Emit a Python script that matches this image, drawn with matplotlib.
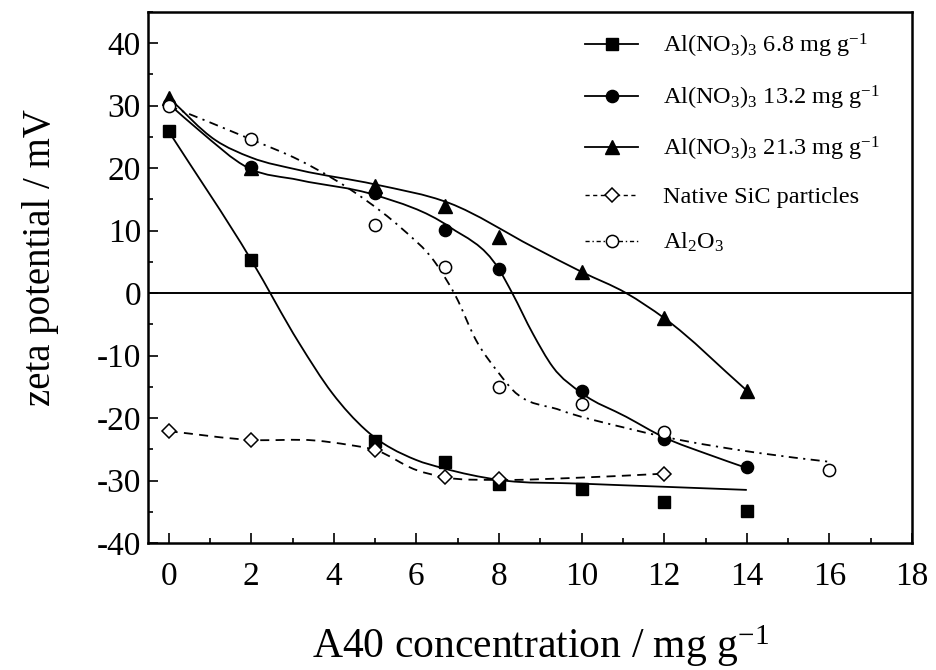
import matplotlib
matplotlib.use("Agg")
import matplotlib.pyplot as plt
import numpy as np
from matplotlib.path import Path
from matplotlib.patches import PathPatch
from matplotlib.lines import Line2D
from matplotlib.ticker import MultipleLocator

plt.rcParams['font.family'] = ['Liberation Serif', 'DejaVu Serif']
plt.rcParams['mathtext.fontset'] = 'custom'
plt.rcParams['mathtext.rm'] = 'Liberation Serif'
plt.rcParams['mathtext.it'] = 'Liberation Serif:italic'
plt.rcParams['axes.unicode_minus'] = False

# measured points
x_sq = [0, 2, 5, 6.7, 8, 10, 12, 14]
y_sq = [25.9, 5.3, -23.6, -27.0, -30.6, -31.4, -33.5, -34.9]

x_c13 = [0, 2, 5, 6.7, 8, 10, 12, 14]
y_c13 = [30.3, 20.2, 16.0, 10.1, 3.8, -15.7, -23.3, -27.9]

x_t21 = [0, 2, 5, 6.7, 8, 10, 12, 14]
y_t21 = [31.3, 20.0, 17.1, 13.9, 9.0, 3.4, -4.0, -15.6]

x_sic = [0, 2, 5, 6.7, 8, 12]
y_sic = [-22.1, -23.5, -25.1, -29.4, -29.8, -28.9]

x_al = [0, 2, 5, 6.7, 8, 10, 12, 16]
y_al = [30.0, 24.6, 10.9, 4.2, -15.1, -17.7, -22.2, -28.3]

# fitted curves
sq_fit_x = [0, 2, 3.16, 3.96, 4.77, 5.99, 6.63, 8, 10, 12, 14]
sq_fit_y = [25.9, 5.3, -8.0, -16.0, -21.9, -26.7, -28.0, -29.9, -30.5, -31.0, -31.5]

c13_fit_x = [0, 0.73, 1.94, 3.16, 5, 6.8, 8, 8.32, 8.82, 9.3, 10, 11.08, 12, 13.1, 14]
c13_fit_y = [30.3, 26.1, 20.0, 18.1, 15.7, 10.6, 3.8, 0, -6.5, -11.8, -16.0, -19.8, -23.1, -25.9, -28.0]

t21_fit_x = [0, 1.13, 2, 3.16, 5, 6.8, 8.82, 10, 11.08, 12, 14]
t21_fit_y = [31.3, 24.5, 21.7, 19.7, 17.4, 14.4, 7.4, 3.4, 0, -4.0, -15.6]

al_fit_x = [0, 2, 3.16, 4.77, 5.6, 6.47, 6.96, 7.44, 8.0, 8.33, 9.47, 11.08, 12, 14.3, 16]
al_fit_y = [30.0, 24.6, 21.3, 14.9, 10.6, 4.75, -0.6, -7.5, -12.85, -15.5, -18.7, -21.6, -23.0, -25.6, -27.0]

sic_fit_x = [0, 2, 3.56, 4.37, 5, 5.99, 6.7, 8, 9.74, 12]
sic_fit_y = [-22.1, -23.5, -23.6, -24.3, -25.1, -28.3, -29.5, -29.9, -29.6, -28.9]

labels = [r'Al(NO$_3$)$_3$ 6.8 mg g$^{-1}$',
          r'Al(NO$_3$)$_3$ 13.2 mg g$^{-1}$',
          r'Al(NO$_3$)$_3$ 21.3 mg g$^{-1}$',
          'Native SiC particles',
          r'Al$_2$O$_3$']


def smooth_path(xs, ys):
    # cubic hermite through the read points, as bezier segments
    x = np.asarray(xs, float)
    y = np.asarray(ys, float)
    h = np.diff(x)
    d = np.diff(y) / h
    m = np.empty_like(y)
    m[0] = d[0]
    m[-1] = d[-1]
    m[1:-1] = (h[1:] * d[:-1] + h[:-1] * d[1:]) / (h[:-1] + h[1:])
    verts = [(x[0], y[0])]
    codes = [Path.MOVETO]
    for i in range(len(x) - 1):
        verts += [(x[i] + h[i] / 3, y[i] + m[i] * h[i] / 3),
                  (x[i + 1] - h[i] / 3, y[i + 1] - m[i + 1] * h[i] / 3),
                  (x[i + 1], y[i + 1])]
        codes += [Path.CURVE4] * 3
    return Path(verts, codes)


DASH = (0, (5, 3.5))
DASHDOT = (0, (5, 3, 1.2, 3))

fig = plt.figure(figsize=(9.36, 6.70), dpi=100)
ax = fig.add_axes([148 / 936, 1 - 543 / 670, 764 / 936, 531 / 670])

ax.axhline(0, color='k', lw=1.4, zorder=1)

for fx, fy, ls in [(sq_fit_x, sq_fit_y, '-'), (c13_fit_x, c13_fit_y, '-'),
                   (t21_fit_x, t21_fit_y, '-'), (sic_fit_x, sic_fit_y, DASH),
                   (al_fit_x, al_fit_y, DASHDOT)]:
    ax.add_patch(PathPatch(smooth_path(fx, fy), fill=False, ec='k', lw=1.3,
                           ls=ls, zorder=2))

ms = 8.8
ax.plot(x_c13, y_c13, ls='none', marker='o', ms=ms, color='k', zorder=3)
ax.plot(x_al, y_al, ls='none', marker='o', ms=ms, mfc='white', mec='k', mew=1.1, zorder=4)
ax.plot(x_sq, y_sq, ls='none', marker='s', ms=ms, color='k', zorder=3)
ax.plot(x_t21, y_t21, ls='none', marker='^', ms=ms + 1, color='k', zorder=3)
ax.plot(x_sic, y_sic, ls='none', marker='D', ms=6.8, mfc='white', mec='k', mew=1.1, zorder=4)

ax.set_xlim(-0.5, 18)
ax.set_ylim(-40, 45)
ax.set_xticks(np.arange(0, 19, 2))
ax.set_yticks(np.arange(-40, 41, 10))
ax.xaxis.set_minor_locator(MultipleLocator(1))
ax.yaxis.set_minor_locator(MultipleLocator(5))
ax.tick_params(which='both', direction='in', width=1.2, labelsize=24)
ax.tick_params(which='major', length=7)
ax.tick_params(which='minor', length=3.6)
ax.tick_params(axis='x', pad=13)
ax.tick_params(axis='y', pad=5)
for sp in ax.spines.values():
    sp.set_linewidth(1.8)

ax.set_xlabel(r'A40 concentration / mg g$^{-1}$', fontsize=30, va='center')
ax.xaxis.set_label_coords(0.514, -0.194)
ax.set_ylabel('zeta potential / mV', fontsize=28, va='center')
ax.yaxis.set_label_coords(-0.141, 0.537)

handles = [
    Line2D([], [], color='k', lw=1.3, marker='s', ms=ms),
    Line2D([], [], color='k', lw=1.3, marker='o', ms=ms),
    Line2D([], [], color='k', lw=1.3, marker='^', ms=ms + 1),
    Line2D([], [], color='k', lw=1.0, ls=(0, (3, 2.5)), marker='D', ms=6.8, mfc='white', mew=1.1),
    Line2D([], [], color='k', lw=1.0, ls=(0, (3, 2, 1, 2)), marker='o', ms=ms, mfc='white', mew=1.1),
]
ax.legend(handles, labels, loc='upper left', bbox_to_anchor=(0.572, 0.962),
          frameon=False, fontsize=17.5, handlelength=2.2, handletextpad=1.0,
          labelspacing=0.95, borderpad=0, borderaxespad=0, numpoints=1)

fig.savefig('out.png', dpi=100)
